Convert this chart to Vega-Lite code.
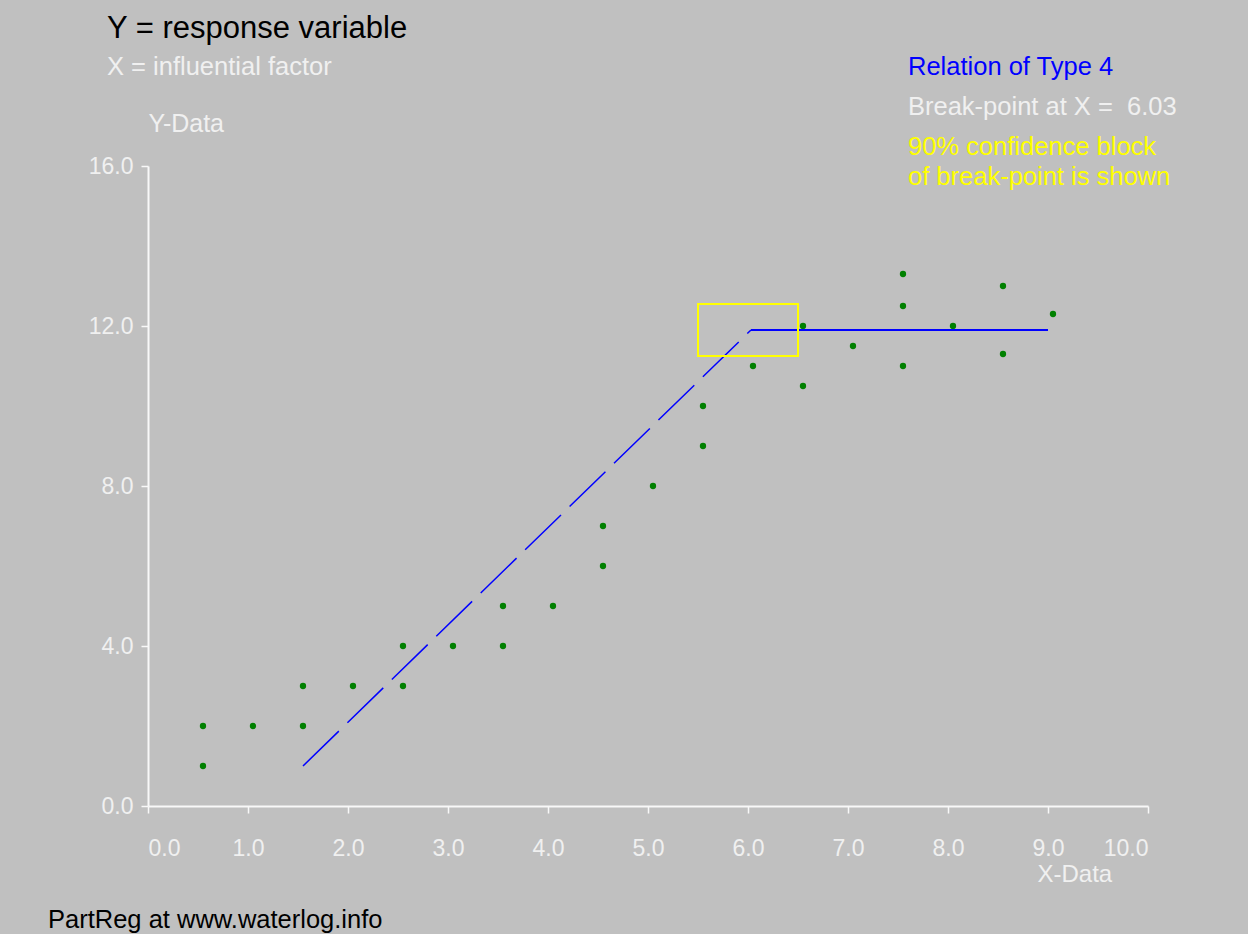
{
  "$schema": "https://vega.github.io/schema/vega-lite/v6.json",
  "width": 1000,
  "height": 640,
  "autosize": {"type": "none"},
  "padding": {"left": 148, "top": 166, "right": 100, "bottom": 128},
  "background": "#C0C0C0",
  "config": {"view": {"stroke": null}, "font": "Liberation Sans"},
  "datasets": {
    "points": [
      {"x": 0.55, "y": 2}, {"x": 0.55, "y": 1},
      {"x": 1.05, "y": 2},
      {"x": 1.55, "y": 3}, {"x": 1.55, "y": 2},
      {"x": 2.05, "y": 3},
      {"x": 2.55, "y": 4}, {"x": 2.55, "y": 3},
      {"x": 3.05, "y": 4},
      {"x": 3.55, "y": 5}, {"x": 3.55, "y": 4},
      {"x": 4.05, "y": 5},
      {"x": 4.55, "y": 7}, {"x": 4.55, "y": 6},
      {"x": 5.05, "y": 8},
      {"x": 5.55, "y": 10}, {"x": 5.55, "y": 9},
      {"x": 6.05, "y": 11},
      {"x": 6.55, "y": 12}, {"x": 6.55, "y": 10.5},
      {"x": 7.05, "y": 11.5},
      {"x": 7.55, "y": 13.3}, {"x": 7.55, "y": 12.5}, {"x": 7.55, "y": 11},
      {"x": 8.05, "y": 12},
      {"x": 8.55, "y": 13}, {"x": 8.55, "y": 11.3},
      {"x": 9.05, "y": 12.3}
    ],
    "rising": [{"x": 1.55, "y": 1.0}, {"x": 6.03, "y": 11.9}],
    "flat": [{"x": 6.03, "y": 11.9}, {"x": 9.0, "y": 11.9}],
    "block": [{"x1": 5.5, "x2": 6.5, "y1": 11.25, "y2": 12.55}],
    "titleText": [{"x": -0.41, "y": 19.2, "t": "Y = response variable"}],
    "subText": [{"x": -0.41, "y": 18.275, "t": "X = influential factor"}],
    "relText": [{"x": 7.6, "y": 18.275, "t": "Relation of Type 4"}],
    "bpText": [{"x": 7.6, "y": 17.275, "t": "Break-point at X = \u00a06.03"}],
    "confText": [{"x": 7.6, "y": 16.275, "t": "90% confidence block"}, {"x": 7.6, "y": 15.525, "t": "of break-point is shown"}],
    "footText": [{"x": -1.0, "y": -3.05, "t": "PartReg at www.waterlog.info"}]
  },
  "layer": [
    {
      "data": {"name": "points"},
      "mark": {"type": "circle", "size": 40, "color": "#008000", "opacity": 1},
      "encoding": {
        "x": {"field": "x", "type": "quantitative", "scale": {"domain": [0, 10], "nice": false, "zero": false},
          "axis": {"values": [0,1,2,3,4,5,6,7,8,9,10], "format": ".1f", "grid": false,
            "domainColor": "#F8F8F8", "domainWidth": 2, "tickColor": "#F8F8F8", "tickWidth": 1.5, "tickSize": 7,
            "labelColor": "#F0F0F0", "labelFontSize": 23, "labelPadding": 24, "labelFont": "Liberation Sans",
            "title": "X-Data", "titleColor": "#F0F0F0", "titleFontSize": 24, "titleFontWeight": "normal", "titleFont": "Liberation Sans",
            "titleX": 889, "titleY": 75, "titleAlign": "left", "titleBaseline": "alphabetic", "titleAnchor": null}},
        "y": {"field": "y", "type": "quantitative", "scale": {"domain": [0, 16], "nice": false, "zero": false},
          "axis": {"values": [0,4,8,12,16], "format": ".1f", "grid": false,
            "domainColor": "#F8F8F8", "domainWidth": 2, "tickColor": "#F8F8F8", "tickWidth": 1.5, "tickSize": 7,
            "labelColor": "#F0F0F0", "labelFontSize": 23, "labelPadding": 8, "labelFont": "Liberation Sans",
            "title": "Y-Data", "titleColor": "#F0F0F0", "titleFontSize": 25, "titleFontWeight": "normal", "titleFont": "Liberation Sans",
            "titleAngle": 0, "titleX": 0, "titleY": -35, "titleAlign": "left", "titleBaseline": "alphabetic"}}
      }
    },
    {
      "data": {"name": "rising"},
      "mark": {"type": "line", "color": "#0000FF", "strokeWidth": 1.5, "strokeDash": [50, 12]},
      "encoding": {
        "x": {"field": "x", "type": "quantitative", "scale": {"domain": [0, 10], "nice": false, "zero": false}},
        "y": {"field": "y", "type": "quantitative", "scale": {"domain": [0, 16], "nice": false, "zero": false}}
      }
    },
    {
      "data": {"name": "flat"},
      "mark": {"type": "line", "color": "#0000FF", "strokeWidth": 2},
      "encoding": {
        "x": {"field": "x", "type": "quantitative", "scale": {"domain": [0, 10], "nice": false, "zero": false}},
        "y": {"field": "y", "type": "quantitative", "scale": {"domain": [0, 16], "nice": false, "zero": false}}
      }
    },
    {
      "data": {"name": "block"},
      "mark": {"type": "rect", "filled": false, "stroke": "#FFFF00", "strokeWidth": 2},
      "encoding": {
        "x": {"field": "x1", "type": "quantitative", "scale": {"domain": [0, 10], "nice": false, "zero": false}},
        "x2": {"field": "x2"},
        "y": {"field": "y1", "type": "quantitative", "scale": {"domain": [0, 16], "nice": false, "zero": false}},
        "y2": {"field": "y2"}
      }
    },
    {
      "data": {"name": "titleText"},
      "mark": {"type": "text", "align": "left", "baseline": "alphabetic", "fontSize": 31, "color": "#000000", "font": "Liberation Sans"},
      "encoding": {
        "x": {"field": "x", "type": "quantitative", "scale": {"domain": [0, 10], "nice": false, "zero": false}},
        "y": {"field": "y", "type": "quantitative", "scale": {"domain": [0, 16], "nice": false, "zero": false}},
        "text": {"field": "t"}
      }
    },
    {
      "data": {"name": "subText"},
      "mark": {"type": "text", "align": "left", "baseline": "alphabetic", "fontSize": 25.5, "color": "#F0F0F0", "font": "Liberation Sans"},
      "encoding": {
        "x": {"field": "x", "type": "quantitative", "scale": {"domain": [0, 10], "nice": false, "zero": false}},
        "y": {"field": "y", "type": "quantitative", "scale": {"domain": [0, 16], "nice": false, "zero": false}},
        "text": {"field": "t"}
      }
    },
    {
      "data": {"name": "relText"},
      "mark": {"type": "text", "align": "left", "baseline": "alphabetic", "fontSize": 25.5, "color": "#0000FF", "font": "Liberation Sans"},
      "encoding": {
        "x": {"field": "x", "type": "quantitative", "scale": {"domain": [0, 10], "nice": false, "zero": false}},
        "y": {"field": "y", "type": "quantitative", "scale": {"domain": [0, 16], "nice": false, "zero": false}},
        "text": {"field": "t"}
      }
    },
    {
      "data": {"name": "bpText"},
      "mark": {"type": "text", "align": "left", "baseline": "alphabetic", "fontSize": 25.5, "color": "#F0F0F0", "font": "Liberation Sans"},
      "encoding": {
        "x": {"field": "x", "type": "quantitative", "scale": {"domain": [0, 10], "nice": false, "zero": false}},
        "y": {"field": "y", "type": "quantitative", "scale": {"domain": [0, 16], "nice": false, "zero": false}},
        "text": {"field": "t"}
      }
    },
    {
      "data": {"name": "confText"},
      "mark": {"type": "text", "align": "left", "baseline": "alphabetic", "fontSize": 25.5, "color": "#FFFF00", "font": "Liberation Sans"},
      "encoding": {
        "x": {"field": "x", "type": "quantitative", "scale": {"domain": [0, 10], "nice": false, "zero": false}},
        "y": {"field": "y", "type": "quantitative", "scale": {"domain": [0, 16], "nice": false, "zero": false}},
        "text": {"field": "t"}
      }
    },
    {
      "data": {"name": "footText"},
      "mark": {"type": "text", "align": "left", "baseline": "alphabetic", "fontSize": 25.5, "color": "#000000", "font": "Liberation Sans"},
      "encoding": {
        "x": {"field": "x", "type": "quantitative", "scale": {"domain": [0, 10], "nice": false, "zero": false}},
        "y": {"field": "y", "type": "quantitative", "scale": {"domain": [0, 16], "nice": false, "zero": false}},
        "text": {"field": "t"}
      }
    }
  ]
}
